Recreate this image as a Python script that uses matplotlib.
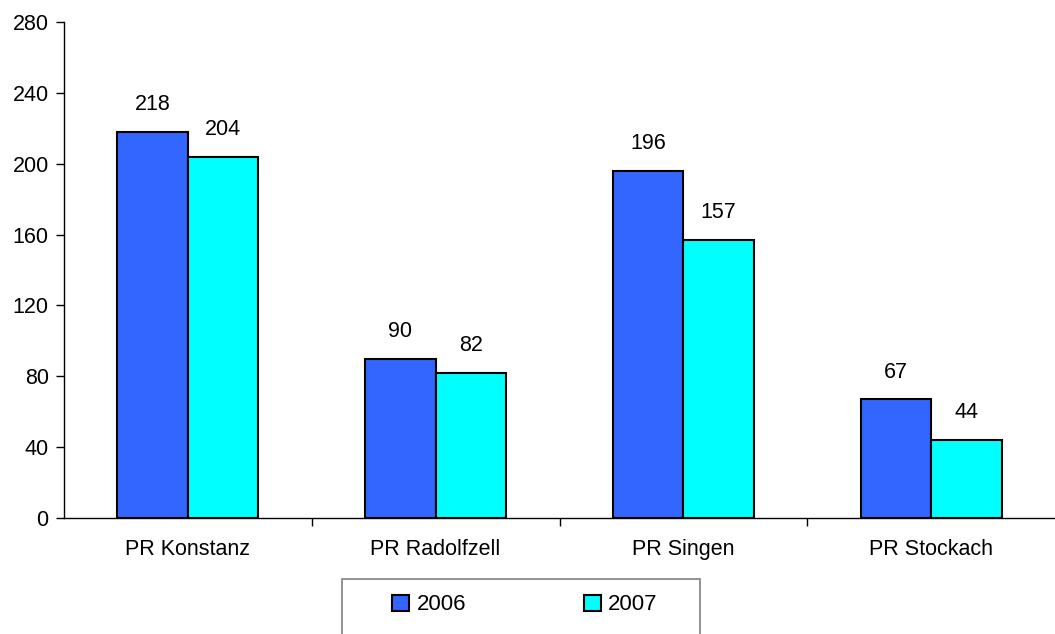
import numpy as np
import matplotlib.pyplot as plt
from matplotlib.patches import Rectangle

plt.rcParams['font.family'] = ['Liberation Sans', 'DejaVu Sans']

# data
categories = ["PR Konstanz", "PR Radolfzell", "PR Singen", "PR Stockach"]
years = ["2006", "2007"]
values_2006 = [218, 90, 196, 67]
values_2007 = [204, 82, 157, 44]
y_ticks = [0, 40, 80, 120, 160, 200, 240, 280]

colors = ["#3366FF", "#00FFFF"]

fig = plt.figure(figsize=(10.55, 6.34), dpi=100)
W, H = 1055, 634
ax = fig.add_axes([64 / W, (H - 518) / H, 991 / W, 496 / H])

x = np.arange(len(categories))
width = 0.285
series = [values_2006, values_2007]
for i, vals in enumerate(series):
    pos = x + (i - 0.5) * width
    bars = ax.bar(pos, vals, width, color=colors[i], edgecolor="black",
                  linewidth=1.5, label=years[i], zorder=3)
    for b, v in zip(bars, vals):
        ax.annotate(str(v), (b.get_x() + b.get_width() / 2, v),
                    xytext=(0, 12), textcoords="offset points",
                    ha="center", va="bottom", fontsize=15.5)

ax.set_xlim(-0.5, len(categories) - 0.5)
ax.set_ylim(0, 280)
ax.set_yticks(y_ticks)
ax.tick_params(axis="y", direction="out", length=6, width=1, labelsize=15.5, pad=5)

# category labels centred, ticks between categories
ax.set_xticks(x)
ax.set_xticklabels(categories)
ax.tick_params(axis="x", which="major", length=0, labelsize=15.5, pad=15)
ax.set_xticks(np.arange(len(categories) - 1) + 0.5, minor=True)
ax.tick_params(axis="x", which="minor", direction="out", length=6, width=1)

for side in ["top", "right"]:
    ax.spines[side].set_visible(False)
ax.spines["left"].set_linewidth(1)
ax.spines["bottom"].set_linewidth(1)

# legend box, running off the bottom edge like the reference
fig.patches.append(Rectangle((342 / W, -0.05), 358 / W, (H - 579) / H + 0.05,
                             transform=fig.transFigure, fill=False,
                             edgecolor="#808080", linewidth=1.2))
handles, labels = ax.get_legend_handles_labels()
fig.legend(handles, labels, ncol=2, frameon=False, fontsize=16,
           loc="center", bbox_to_anchor=(525 / W, 1 - 605 / H),
           handlelength=0.75, handleheight=0.75, handletextpad=0.35,
           columnspacing=5.3)

fig.savefig("out.png", dpi=100)
